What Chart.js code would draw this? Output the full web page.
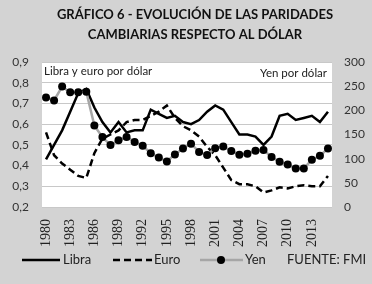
<!DOCTYPE html>
<html>
<head>
<meta charset="utf-8">
<script src="https://cdn.jsdelivr.net/npm/chart.js@4.4.1/dist/chart.umd.min.js"></script>
<style>
    html, body { margin: 0; padding: 0; background: #d3d3d3; }
    #wrap { width: 372px; height: 284px; }
</style>
</head>
<body>
<div id="wrap"><canvas id="paridades" width="372" height="284"></canvas></div>
<script>
// Data
const years = ['1980', '1981', '1982', '1983', '1984', '1985', '1986', '1987', '1988', '1989',
               '1990', '1991', '1992', '1993', '1994', '1995', '1996', '1997', '1998', '1999',
               '2000', '2001', '2002', '2003', '2004', '2005', '2006', '2007', '2008', '2009',
               '2010', '2011', '2012', '2013', '2014', '2015'];

// pounds per dollar (left axis)
const libra = [0.43, 0.50, 0.57, 0.66, 0.75, 0.77, 0.68, 0.61, 0.56, 0.61,
               0.56, 0.57, 0.57, 0.67, 0.65, 0.63, 0.64, 0.61, 0.60, 0.62,
               0.66, 0.69, 0.67, 0.61, 0.55, 0.55, 0.54, 0.50, 0.54, 0.64,
               0.65, 0.62, 0.63, 0.64, 0.61, 0.66];

// euro per dollar (left axis)
const euro = [0.56, 0.45, 0.41, 0.38, 0.35, 0.34, 0.46, 0.53, 0.55, 0.57,
              0.61, 0.62, 0.62, 0.64, 0.66, 0.69, 0.63, 0.59, 0.57, 0.54,
              0.49, 0.45, 0.39, 0.33, 0.31, 0.31, 0.30, 0.27, 0.28, 0.295,
              0.29, 0.30, 0.305, 0.30, 0.30, 0.35];

// yen per dollar (right axis)
const yen = [226.7, 220.5, 249.1, 237.5, 237.5, 238.5, 168.5, 144.6, 128.2, 138.0,
             144.8, 134.7, 126.7, 111.2, 102.2, 94.1, 108.8, 121.0, 130.9, 113.9,
             107.8, 121.5, 125.4, 115.9, 108.2, 110.2, 116.3, 117.8, 103.4, 93.6,
             87.8, 79.8, 79.8, 97.6, 105.9, 121.0];

const leftAxis = { min: 0.2, max: 0.9, step: 0.1 };
const rightAxis = { min: 0, max: 300, step: 50 };
const titleLines = ['GRÁFICO 6 - EVOLUCIÓN DE LAS PARIDADES', 'CAMBIARIAS RESPECTO AL DÓLAR'];

const FONT = 'Lato, "Open Sans", sans-serif';

// grey page + white plot area
const plotBackground = {
    id: 'plotBackground',
    beforeDraw(chart) {
        const { ctx, chartArea } = chart;
        ctx.save();
        ctx.fillStyle = '#d3d3d3';
        ctx.fillRect(0, 0, chart.width, chart.height);
        ctx.fillStyle = '#ffffff';
        ctx.fillRect(chartArea.left, chartArea.top, chartArea.right - chartArea.left, chartArea.bottom - chartArea.top);
        ctx.restore();
    }
};

// title, axis captions inside the plot and the legend row underneath
const notes = {
    id: 'notes',
    afterDraw(chart) {
        const { ctx, chartArea } = chart;
        ctx.save();

        // title (sits a little right of the canvas centre in the original)
        ctx.fillStyle = '#111';
        ctx.textAlign = 'center';
        ctx.textBaseline = 'middle';
        ctx.font = 'bold 13px ' + FONT;
        ctx.fillText(titleLines[0], 195, 15);
        ctx.fillText(titleLines[1], 195, 35);

        ctx.fillStyle = '#222';
        ctx.font = '11.5px ' + FONT;
        ctx.textAlign = 'left';
        ctx.fillText('Libra y euro por dólar', chartArea.left + 2, chartArea.top + 9);
        ctx.textAlign = 'right';
        ctx.fillText('Yen por dólar', chartArea.right - 5, chartArea.top + 11);

        // legend
        const y = 260;
        const ds = chart.data.datasets;
        ctx.font = '13px ' + FONT;
        ctx.textAlign = 'left';
        ctx.lineCap = 'butt';

        // Libra
        ctx.strokeStyle = ds[0].borderColor;
        ctx.lineWidth = ds[0].borderWidth;
        ctx.setLineDash([]);
        ctx.beginPath(); ctx.moveTo(22, y); ctx.lineTo(60, y); ctx.stroke();
        ctx.fillText('Libra', 63, y);

        // Euro
        ctx.strokeStyle = ds[1].borderColor;
        ctx.lineWidth = ds[1].borderWidth;
        ctx.setLineDash(ds[1].borderDash);
        ctx.beginPath(); ctx.moveTo(113, y); ctx.lineTo(152, y); ctx.stroke();
        ctx.setLineDash([]);
        ctx.fillText('Euro', 154, y);

        // Yen
        ctx.strokeStyle = ds[2].borderColor;
        ctx.lineWidth = ds[2].borderWidth;
        ctx.beginPath(); ctx.moveTo(200, y); ctx.lineTo(243, y); ctx.stroke();
        ctx.fillStyle = ds[2].pointBackgroundColor;
        ctx.beginPath(); ctx.arc(221, y, ds[2].pointRadius, 0, Math.PI * 2); ctx.fill();
        ctx.fillStyle = '#222';
        ctx.fillText('Yen', 245, y);

        ctx.fillText('FUENTE: FMI', 287, y);
        ctx.restore();
    }
};

const ctx = document.getElementById('paridades');

new Chart(ctx, {
    type: 'line',
    data: {
        labels: years,
        datasets: [{
            label: 'Libra',
            data: libra,
            yAxisID: 'y',
            borderColor: '#000000',
            borderWidth: 2.5,
            pointRadius: 0,
            tension: 0,
            order: 2
        },
        {
            label: 'Euro',
            data: euro,
            yAxisID: 'y',
            borderColor: '#000000',
            borderWidth: 2.5,
            borderDash: [7, 4],
            pointRadius: 0,
            tension: 0,
            order: 3
        },
        {
            label: 'Yen',
            data: yen,
            yAxisID: 'y1',
            borderColor: '#a6a6a6',
            borderWidth: 2.5,
            pointRadius: 4,
            pointBackgroundColor: '#000000',
            pointBorderColor: '#000000',
            pointBorderWidth: 0,
            tension: 0,
            order: 1
        }]
    },
    options: {
        responsive: false,
        animation: false,
        layout: { padding: { top: 62 } },
        plugins: {
            legend: { display: false },
            tooltip: { enabled: false },
            title: { display: false }
        },
        scales: {
            x: {
                offset: true,
                grid: { display: false },
                border: { display: false },
                afterFit: function(scale) { scale.height = 77; },
                ticks: {
                    autoSkip: false,
                    minRotation: 90,
                    maxRotation: 90,
                    padding: 4,
                    color: '#222',
                    font: { family: '"Liberation Serif", serif', size: 14 },
                    callback: function(value, index) {
                        return index % 3 === 0 ? years[index] : '';
                    }
                }
            },
            y: {
                position: 'left',
                min: leftAxis.min,
                max: leftAxis.max,
                afterFit: function(scale) { scale.width = 42; },
                grid: { color: '#c8c8c8', drawTicks: false },
                border: { display: false },
                ticks: {
                    stepSize: leftAxis.step,
                    padding: 13,
                    color: '#333',
                    font: { family: FONT, size: 12 },
                    callback: function(value) {
                        return value.toFixed(1).replace('.', ',');
                    }
                }
            },
            y1: {
                position: 'right',
                min: rightAxis.min,
                max: rightAxis.max,
                afterFit: function(scale) { scale.width = 40; },
                grid: { display: false, drawTicks: false },
                border: { display: false },
                ticks: {
                    stepSize: rightAxis.step,
                    padding: 12,
                    color: '#333',
                    font: { family: FONT, size: 12 }
                }
            }
        }
    },
    plugins: [plotBackground, notes]
});
</script>
</body>
</html>
